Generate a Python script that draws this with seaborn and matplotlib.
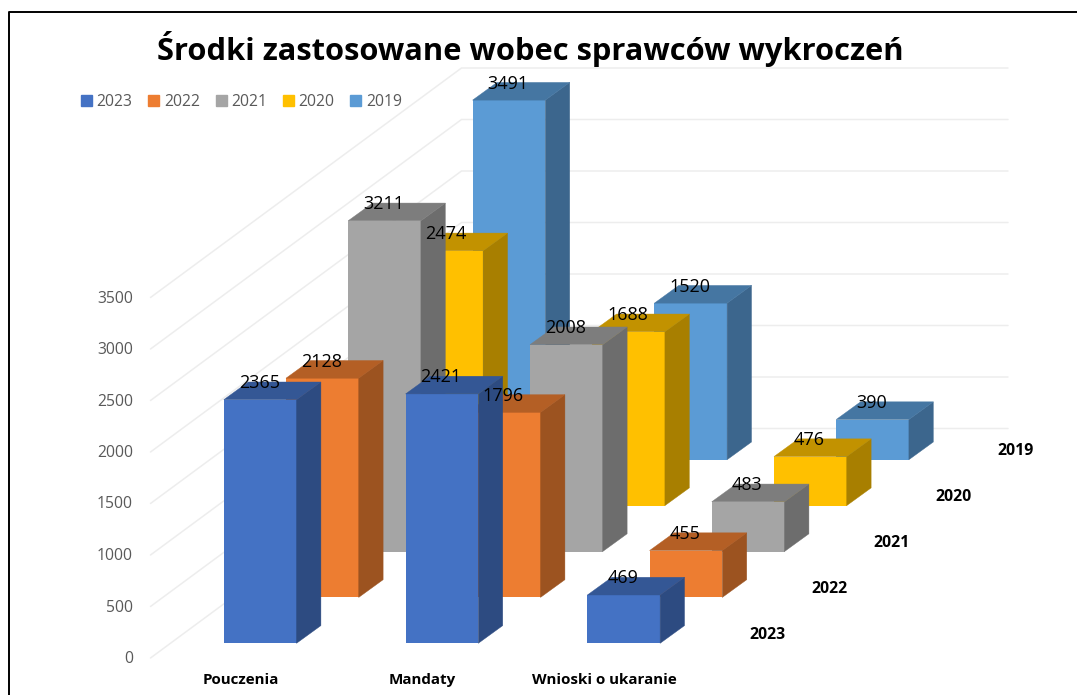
import numpy as np
import pandas as pd
import seaborn as sns
import matplotlib.pyplot as plt
from matplotlib.patches import Patch, Polygon
from matplotlib.colors import to_rgb

# Data
categories = ['Pouczenia', 'Mandaty', 'Wnioski o ukaranie']
years = ['2023', '2022', '2021', '2020', '2019']
values_2023 = [2365, 2421, 469]
values_2022 = [2128, 1796, 455]
values_2021 = [3211, 2008, 483]
values_2020 = [2474, 1688, 476]
values_2019 = [3491, 1520, 390]
series = [values_2023, values_2022, values_2021, values_2020, values_2019]
colors = ['#4472C4', '#ED7D31', '#A5A5A5', '#FFC000', '#5B9BD5']
y_ticks = [0, 500, 1000, 1500, 2000, 2500, 3000, 3500]

sns.set_theme(style='white')
plt.rcParams['font.family'] = ['Open Sans', 'DejaVu Sans']

# Projection of the fake 3D view
W, H = 1077, 695
PX_X = 181.8  # px per category
PX_Y = 0.103  # px per value unit
ZERO_X = 260.15
ZERO_Y = 643.3
ROW_DX = 62.2 / PX_X
ROW_DY = 45.9 / PX_Y
SIDE_DX = 24.4 / PX_X
SIDE_DY = 17.7 / PX_Y


def to_x(px):
    return (px - ZERO_X) / PX_X


def to_y(py):
    return (ZERO_Y - py) / PX_Y


def darker(color, k):
    return tuple(c * k for c in to_rgb(color))


fig = plt.figure(figsize=(W / 100, H / 100), dpi=100, facecolor='white')
ax = fig.add_axes([0, 0, 1, 1])

# Walls: gridlines on the left wall and the back wall
wall_x0 = to_x(150.5)
wall_y0 = to_y(658)
wall_x1 = wall_x0 + 5 * ROW_DX
wall_y1 = wall_y0 + 5 * ROW_DY
wall_x2 = to_x(1008)
for t in y_ticks:
    ax.plot([wall_x0, wall_x1, wall_x2], [wall_y0 + t, wall_y1 + t, wall_y1 + t],
            color='#EDEDED', lw=1.1, zorder=1, solid_joinstyle='miter')
    ax.text(to_x(133), wall_y0 + t - 1 / PX_Y, str(t), ha='right', va='center',
            fontsize=11.3, color='#595959')

# Bars, back row first
for row in range(len(years) - 1, -1, -1):
    vals = series[row]
    df = pd.DataFrame({'pos': np.arange(len(categories)) + row * ROW_DX, 'value': vals})
    before = len(ax.patches)
    sns.barplot(data=df, x='pos', y='value', native_scale=True, width=0.4, ax=ax,
                color=colors[row], saturation=1, bottom=row * ROW_DY, linewidth=0,
                zorder=10 + row * -1)
    for bar, v in zip(ax.patches[before:], vals):
        x0, y0 = bar.get_x(), bar.get_y()
        x1, y1 = x0 + bar.get_width(), y0 + bar.get_height()
        z = 10 - row
        side = darker(colors[row], 0.66)
        top = darker(colors[row], 0.76)
        ax.add_patch(Polygon([(x1, y0), (x1 + SIDE_DX, y0 + SIDE_DY),
                              (x1 + SIDE_DX, y1 + SIDE_DY), (x1, y1)],
                             closed=True, fc=side, ec=side, lw=0.3, zorder=z))
        ax.add_patch(Polygon([(x0, y1), (x1, y1), (x1 + SIDE_DX, y1 + SIDE_DY),
                              (x0 + SIDE_DX, y1 + SIDE_DY)],
                             closed=True, fc=top, ec=top, lw=0.3, zorder=z))
        ax.text((x0 + x1) / 2 - 1 / PX_X, y1 + 16.5 / PX_Y, str(v), ha='center', va='center',
                fontsize=13, color='black', zorder=100)

# Category labels under the front row, depth labels along the right
for i, cat in enumerate(categories):
    ax.text(i - 19.5 / PX_X, to_y(680), cat, ha='center', va='center',
            fontsize=10.9, fontweight='bold', color='black')
for row, year in enumerate(years):
    ax.text(to_x(767) + row * ROW_DX, to_y(635) + row * ROW_DY, year, ha='center', va='center',
            fontsize=11.4, fontweight='bold', color='black')

ax.set_xlim(to_x(0), to_x(W))
ax.set_ylim(to_y(H), to_y(0))
ax.set_axis_off()

# Legend
handles = [Patch(color=c, label=y) for c, y in zip(colors, years)]
ax.legend(handles=handles, ncol=5, frameon=False, fontsize=11.3, loc='center left',
          bbox_to_anchor=(81 / W, 1 - 101.5 / H), handlelength=0.7, handleheight=0.7,
          handletextpad=0.3, columnspacing=1.0, labelcolor='#595959', borderpad=0,
          borderaxespad=0)

# Title and outer frame
fig.text(530.5 / W, 1 - 60 / H, 'Środki zastosowane wobec sprawców wykroczeń', ha='center',
         va='baseline', fontsize=22.2, fontweight='bold', color='black')
fig.add_artist(plt.Line2D([8.6 / W, 8.6 / W, 1], [0, 1 - 12 / H, 1 - 12 / H], color='black', lw=1.4))

fig.savefig('out.png', dpi=100)
